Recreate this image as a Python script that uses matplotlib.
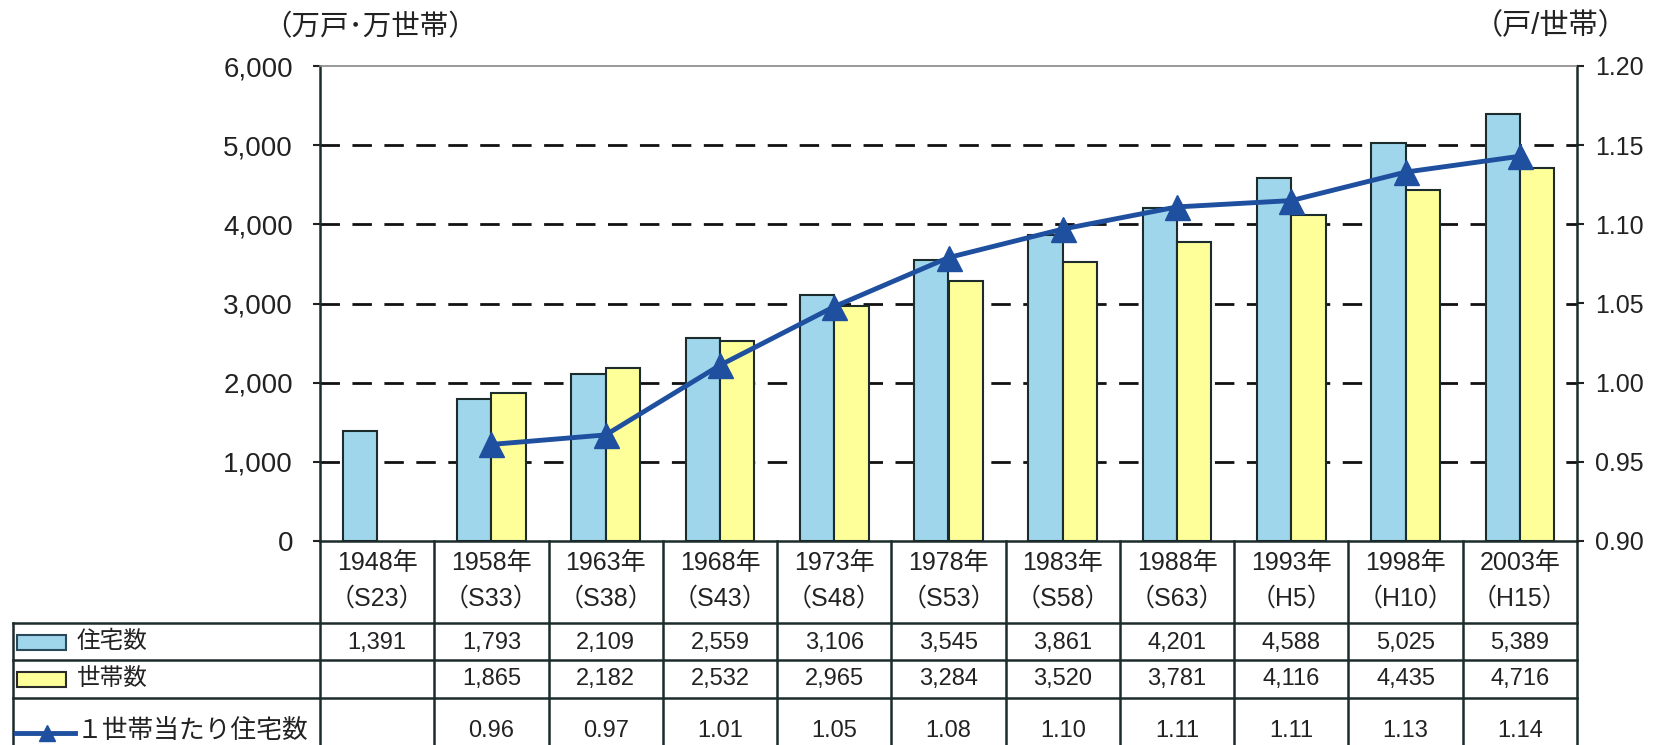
import matplotlib
matplotlib.use('Agg')
import matplotlib.pyplot as plt
import matplotlib.transforms as mtransforms
from matplotlib.patches import Rectangle
from matplotlib.lines import Line2D
import numpy as np

plt.rcParams['font.family'] = ['Liberation Sans', 'Noto Sans CJK JP', 'DejaVu Sans']

# data
years = ['1948年', '1958年', '1963年', '1968年', '1973年', '1978年',
         '1983年', '1988年', '1993年', '1998年', '2003年']
eras = ['（S23）', '（S33）', '（S38）', '（S43）', '（S48）', '（S53）',
        '（S58）', '（S63）', '（H5）', '（H10）', '（H15）']
housing = [1391, 1793, 2109, 2559, 3106, 3545, 3861, 4201, 4588, 5025, 5389]
households = [np.nan, 1865, 2182, 2532, 2965, 3284, 3520, 3781, 4116, 4435, 4716]
# plotted ratio and table labels
ratio = [np.nan, 0.961, 0.967, 1.011, 1.048, 1.079, 1.097, 1.111, 1.115, 1.133, 1.143]
ratio_lbl = ['', '0.96', '0.97', '1.01', '1.05', '1.08', '1.10', '1.11', '1.11', '1.13', '1.14']
series_names = ['住宅数', '世帯数', '１世帯当たり住宅数']

c_blue = '#9fd6ec'
c_yellow = '#ffff99'
c_line = '#1f4f9f'
c_edge = '#1c2b2b'

W, H = 1671, 745
AX_L, AX_R, AX_T, AX_B = 320, 1577, 66, 541
fig = plt.figure(figsize=(W / 100, H / 100), dpi=100)
ax = fig.add_axes([AX_L / W, 1 - AX_B / H, (AX_R - AX_L) / W, (AX_B - AX_T) / H])

x = np.arange(len(years))
bw = 0.30
ax.bar(x - bw / 2, housing, bw, color=c_blue, edgecolor=c_edge, linewidth=1.5, zorder=2)
ax.bar(x + bw / 2, households, bw, color=c_yellow, edgecolor=c_edge, linewidth=1.5, zorder=2)

ax.set_xlim(-0.5, len(years) - 0.5)
ax.set_ylim(0, 6000)
ax.set_yticks(range(0, 6001, 1000))
ax.set_yticklabels([f'{v:,}' for v in range(0, 6001, 1000)], fontsize=20)
ax.set_xticks([])
for v in range(1000, 6000, 1000):
    ax.axhline(v, color='#111111', lw=2, dashes=(7, 4.5), zorder=1)
ax.tick_params(axis='y', length=5, width=1.5, pad=14.5, colors='#222222')

for s in ['left', 'right', 'bottom']:
    ax.spines[s].set_color(c_edge)
    ax.spines[s].set_linewidth(1.8)
ax.spines['top'].set_color('#888888')
ax.spines['top'].set_linewidth(1.2)

ax2 = ax.twinx()
ax2.set_ylim(0.90, 1.20)
ticks2 = [0.90, 0.95, 1.00, 1.05, 1.10, 1.15, 1.20]
ax2.set_yticks(ticks2)
ax2.set_yticklabels([f'{t:.2f}' for t in ticks2], fontsize=18)
ax2.tick_params(axis='y', length=5, width=1.5, pad=8, colors='#222222')
for s in ax2.spines.values():
    s.set_visible(False)
ax2.plot(x, ratio, color=c_line, lw=3.5, marker='^', ms=18,
         markeredgecolor=c_line, zorder=5)

fig.text(370 / W, 1 - 28 / H, '（万戸･万世帯）', fontsize=20.5, ha='center', va='center', color='#222222')
fig.text(1551 / W, 1 - 26 / H, '（戸/世帯）', fontsize=21, ha='center', va='center', color='#222222')

# data table below the chart
tr = mtransforms.blended_transform_factory(ax.transData, ax.transAxes)
ta = ax.transAxes


def ax_x(px):
    return (px - AX_L) / (AX_R - AX_L)


def ax_y(py):
    return (AX_B - py) / (AX_B - AX_T)


rows_y = [ax_y(623), ax_y(660), ax_y(698)]
bottom_y = ax_y(760)
leg_left = ax_x(13)
lk = dict(color=c_edge, lw=1.8, clip_on=False)

for k in range(len(years) + 1):
    ax.add_line(Line2D([k - 0.5, k - 0.5], [0, bottom_y], transform=tr, **lk))
for yy in rows_y:
    ax.add_line(Line2D([leg_left, 1], [yy, yy], transform=ta, **lk))
ax.add_line(Line2D([leg_left, leg_left], [rows_y[0], bottom_y], transform=ta, **lk))

tk = dict(ha='center', va='center', color='#222222', clip_on=False, transform=tr)
for i in range(len(years)):
    ax.text(x[i], ax_y(563), years[i], fontsize=18, **tk)
    ax.text(x[i], ax_y(599), eras[i], fontsize=18, **tk)
    ax.text(x[i], ax_y(643), f'{housing[i]:,}', fontsize=17, **tk)
    if not np.isnan(households[i]):
        ax.text(x[i], ax_y(679), f'{int(households[i]):,}', fontsize=17, **tk)
    ax.text(x[i], ax_y(731), ratio_lbl[i], fontsize=17, **tk)

# legend keys in the left column
ax.add_patch(Rectangle((ax_x(17), ax_y(650)), ax_x(66) - ax_x(17), ax_y(635) - ax_y(650),
                       transform=ta, facecolor=c_blue, edgecolor='#2a4a5a', lw=1.5, clip_on=False))
ax.add_patch(Rectangle((ax_x(17), ax_y(687)), ax_x(66) - ax_x(17), ax_y(672) - ax_y(687),
                       transform=ta, facecolor=c_yellow, edgecolor='#2a2a2a', lw=1.5, clip_on=False))
ax.add_line(Line2D([ax_x(16), ax_x(75)], [ax_y(733), ax_y(733)], transform=ta, color=c_line,
                   lw=3.5, clip_on=False))
ax.add_line(Line2D([ax_x(47)], [ax_y(733)], transform=ta, color=c_line, linestyle='none',
                   marker='^', ms=12, clip_on=False))
lt = dict(ha='left', va='center', color='#222222', clip_on=False, transform=ta)
ax.text(ax_x(77), ax_y(642), series_names[0], fontsize=17, **lt)
ax.text(ax_x(77), ax_y(679), series_names[1], fontsize=17, **lt)
ax.text(ax_x(77), ax_y(731), series_names[2], fontsize=18.5, **lt)

fig.savefig('out.png', dpi=100)
